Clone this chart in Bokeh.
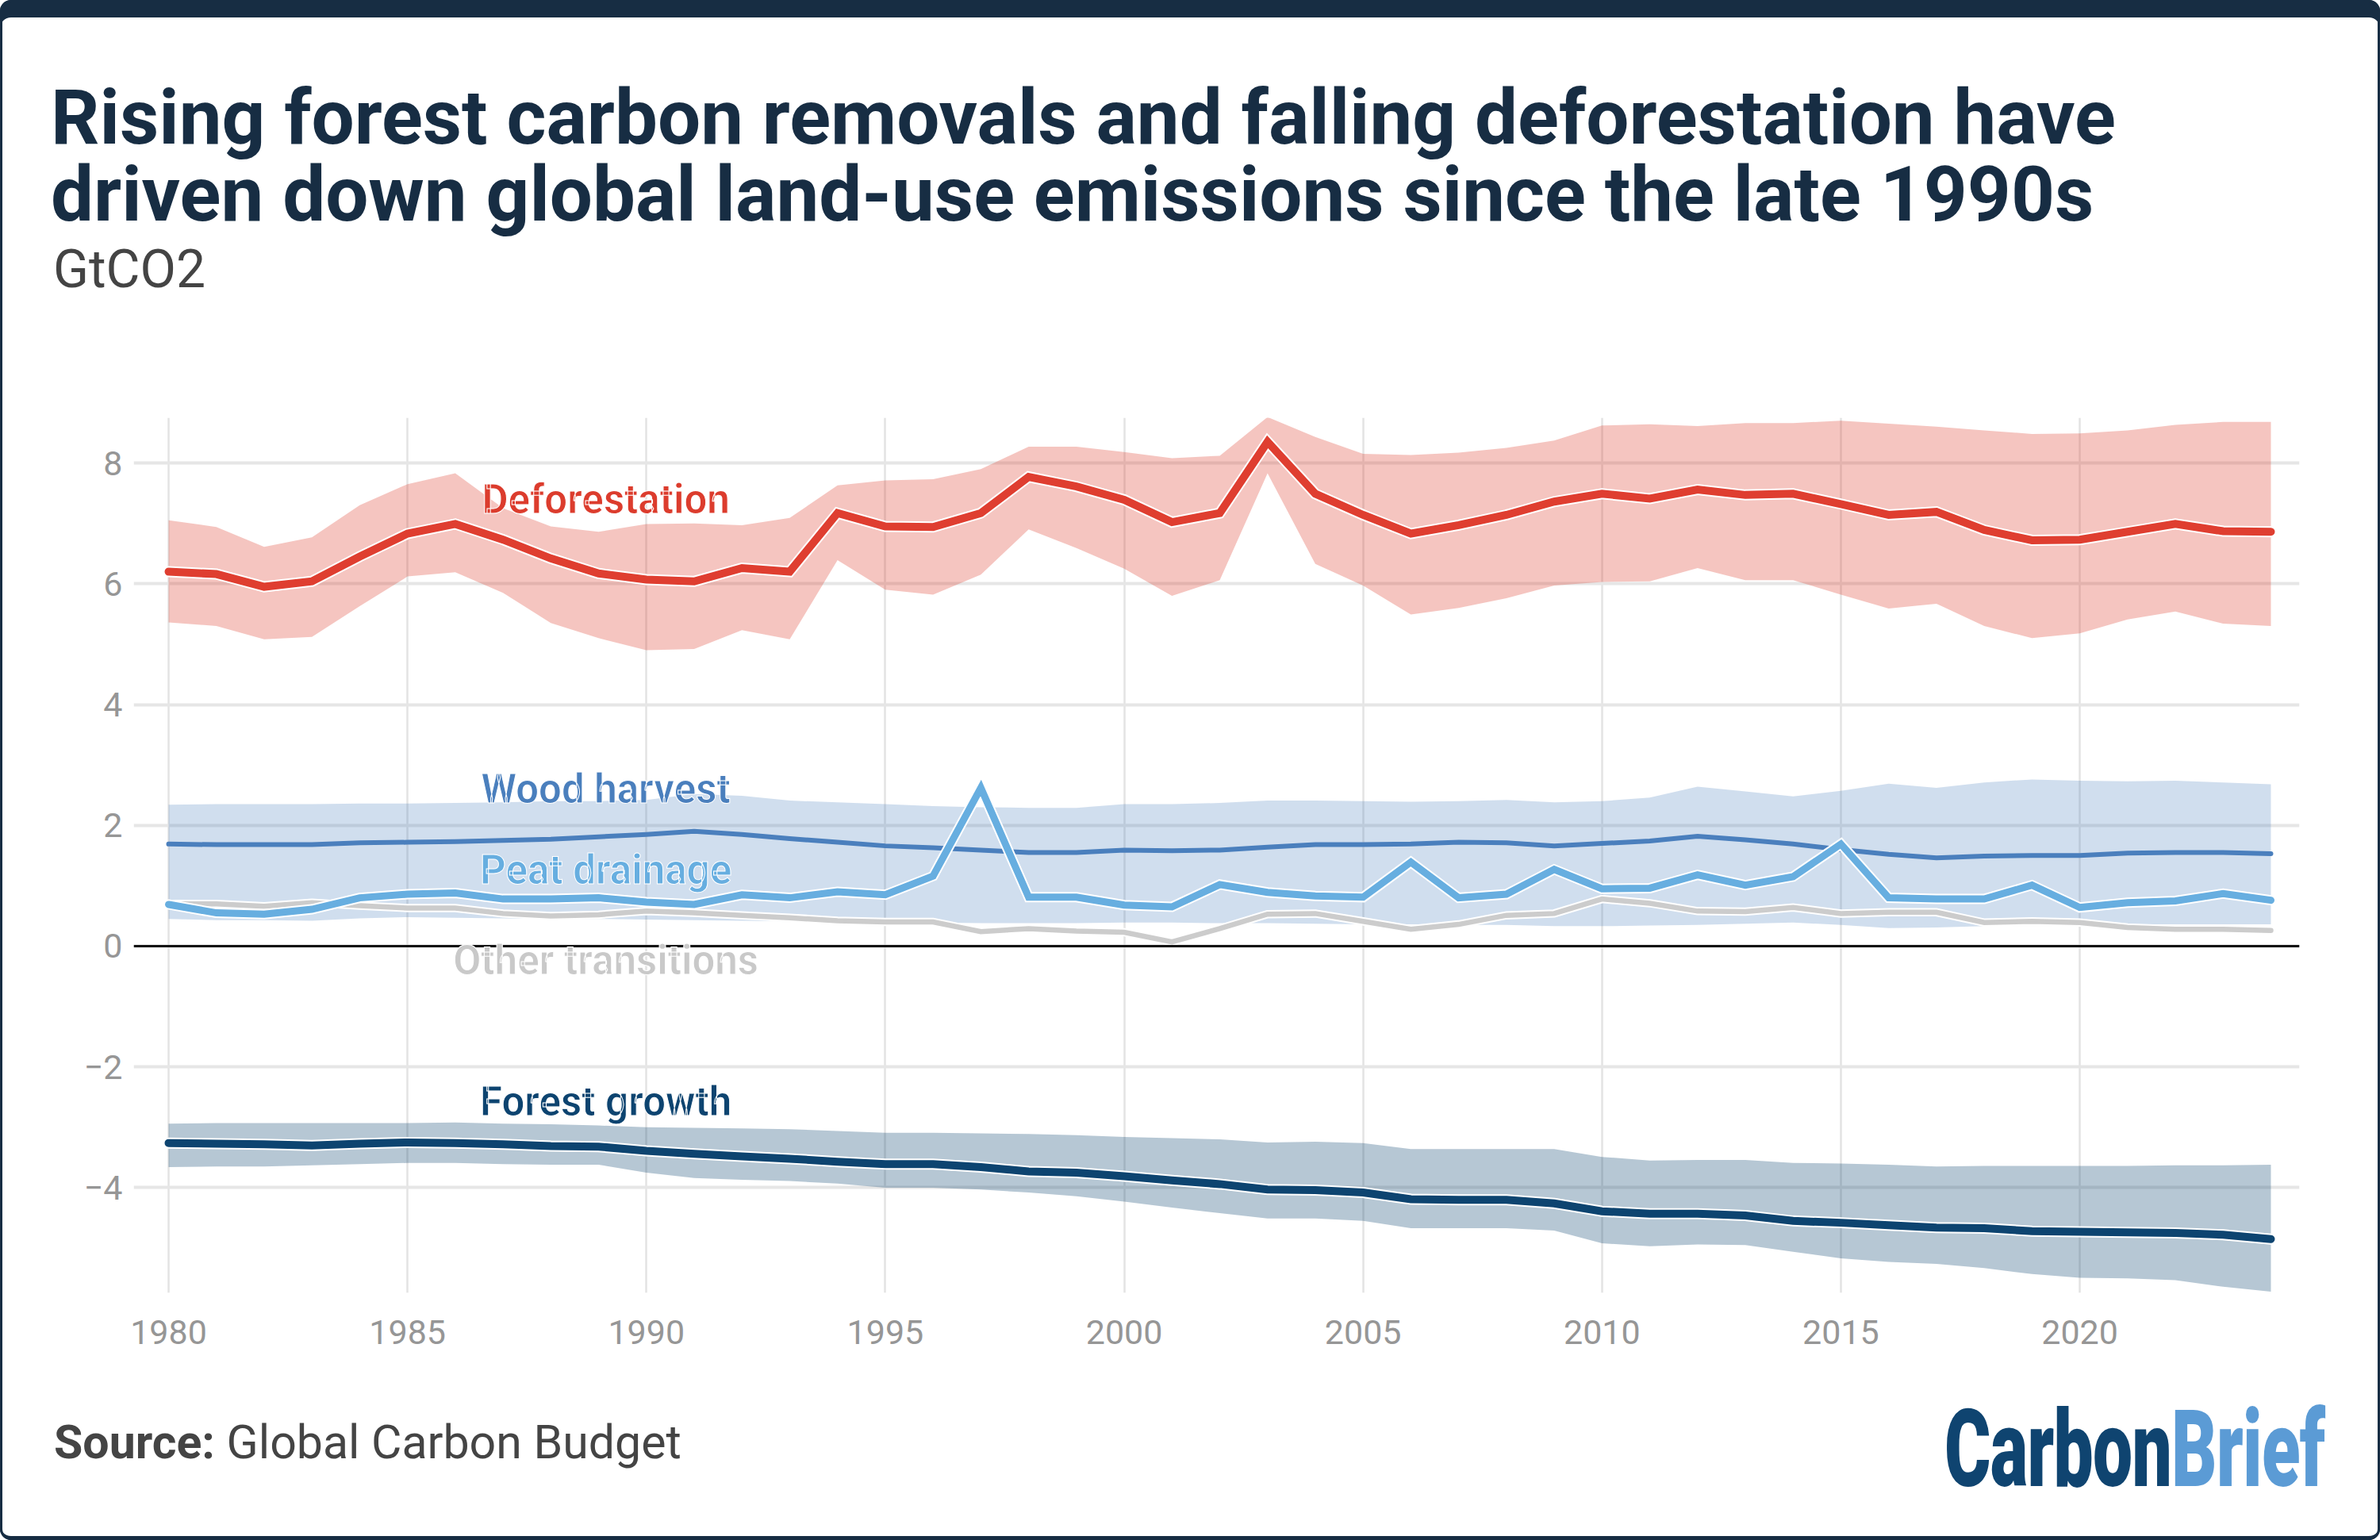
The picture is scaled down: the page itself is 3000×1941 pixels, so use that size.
from bokeh.plotting import figure
from bokeh.models import Range1d, FixedTicker, Label, Span, Div
from bokeh.layouts import column
from bokeh.embed import file_html
from bokeh.resources import INLINE

# ---------------- data (GtCO2) ----------------
years = list(range(1980, 2025))

deforestation = [6.20, 6.16, 5.95, 6.04, 6.45, 6.83, 6.99, 6.73, 6.42, 6.17,
                 6.07, 6.04, 6.26, 6.20, 7.17, 6.95, 6.94, 7.17, 7.77, 7.61,
                 7.39, 7.02, 7.17, 8.35, 7.49, 7.14, 6.83, 6.97, 7.14, 7.36,
                 7.49, 7.41, 7.56, 7.47, 7.49, 7.32, 7.14, 7.19, 6.89, 6.72,
                 6.73, 6.86, 6.99, 6.87, 6.86]
deforestation_hi = [7.05, 6.94, 6.61, 6.77, 7.30, 7.65, 7.83, 7.25, 6.95, 6.86,
                    6.99, 7.00, 6.97, 7.09, 7.63, 7.71, 7.73, 7.90, 8.27, 8.27,
                    8.18, 8.08, 8.12, 8.76, 8.43, 8.15, 8.13, 8.17, 8.25, 8.37,
                    8.62, 8.64, 8.61, 8.66, 8.66, 8.70, 8.65, 8.60, 8.54, 8.48,
                    8.49, 8.54, 8.63, 8.68, 8.68]
deforestation_lo = [5.36, 5.30, 5.08, 5.12, 5.63, 6.12, 6.19, 5.85, 5.35, 5.10,
                    4.90, 4.92, 5.23, 5.08, 6.39, 5.90, 5.82, 6.15, 6.90, 6.59,
                    6.25, 5.80, 6.06, 7.83, 6.33, 5.97, 5.49, 5.60, 5.76, 5.97,
                    6.03, 6.04, 6.26, 6.06, 6.06, 5.82, 5.59, 5.67, 5.30, 5.10,
                    5.18, 5.41, 5.54, 5.34, 5.30]

wood_harvest = [1.69, 1.68, 1.68, 1.68, 1.71, 1.72, 1.73, 1.75, 1.77, 1.81,
                1.85, 1.90, 1.85, 1.78, 1.72, 1.66, 1.63, 1.59, 1.55, 1.55,
                1.59, 1.58, 1.59, 1.64, 1.68, 1.68, 1.69, 1.72, 1.71, 1.66,
                1.70, 1.74, 1.82, 1.76, 1.69, 1.60, 1.52, 1.46, 1.49, 1.50,
                1.50, 1.54, 1.55, 1.55, 1.53]
wood_harvest_hi = [2.34, 2.35, 2.35, 2.35, 2.36, 2.36, 2.37, 2.38, 2.40, 2.40,
                   2.42, 2.52, 2.49, 2.41, 2.38, 2.35, 2.32, 2.30, 2.29, 2.29,
                   2.35, 2.35, 2.37, 2.41, 2.41, 2.40, 2.39, 2.40, 2.42, 2.38,
                   2.40, 2.46, 2.64, 2.56, 2.48, 2.57, 2.69, 2.62, 2.71, 2.76,
                   2.74, 2.73, 2.74, 2.71, 2.68]
wood_harvest_lo = [0.45, 0.43, 0.43, 0.42, 0.46, 0.48, 0.47, 0.46, 0.45, 0.45,
                   0.44, 0.43, 0.42, 0.41, 0.40, 0.39, 0.39, 0.38, 0.38, 0.38,
                   0.39, 0.39, 0.38, 0.38, 0.37, 0.36, 0.36, 0.35, 0.35, 0.33,
                   0.33, 0.34, 0.35, 0.37, 0.39, 0.35, 0.30, 0.31, 0.33, 0.35,
                   0.36, 0.36, 0.36, 0.36, 0.36]

peat_drainage = [0.69, 0.55, 0.53, 0.61, 0.80, 0.86, 0.88, 0.78, 0.78, 0.80,
                 0.73, 0.69, 0.85, 0.80, 0.90, 0.85, 1.16, 2.62, 0.81, 0.81,
                 0.68, 0.65, 1.02, 0.89, 0.83, 0.81, 1.39, 0.80, 0.86, 1.27,
                 0.95, 0.96, 1.18, 1.01, 1.15, 1.69, 0.80, 0.78, 0.78, 1.01,
                 0.64, 0.72, 0.75, 0.87, 0.76]

other_transitions = [0.70, 0.70, 0.66, 0.72, 0.67, 0.63, 0.63, 0.54, 0.50, 0.52,
                     0.58, 0.55, 0.51, 0.47, 0.42, 0.40, 0.40, 0.24, 0.29, 0.25,
                     0.23, 0.07, 0.29, 0.53, 0.54, 0.41, 0.28, 0.36, 0.51, 0.54,
                     0.78, 0.71, 0.58, 0.57, 0.64, 0.54, 0.56, 0.56, 0.39, 0.41,
                     0.39, 0.31, 0.28, 0.28, 0.26]

forest_growth = [-3.26, -3.27, -3.28, -3.30, -3.27, -3.25, -3.26, -3.28, -3.31, -3.32,
                 -3.39, -3.44, -3.48, -3.52, -3.57, -3.61, -3.61, -3.66, -3.73, -3.75,
                 -3.81, -3.88, -3.94, -4.03, -4.04, -4.08, -4.19, -4.20, -4.20, -4.26,
                 -4.39, -4.43, -4.43, -4.46, -4.55, -4.58, -4.62, -4.66, -4.67, -4.72,
                 -4.73, -4.74, -4.75, -4.78, -4.85]
forest_growth_hi = [-2.94, -2.93, -2.93, -2.93, -2.93, -2.93, -2.92, -2.94, -2.95, -2.97,
                    -3.00, -3.01, -3.02, -3.03, -3.06, -3.09, -3.09, -3.10, -3.11, -3.13,
                    -3.16, -3.18, -3.20, -3.25, -3.24, -3.26, -3.36, -3.36, -3.36, -3.36,
                    -3.49, -3.55, -3.54, -3.54, -3.59, -3.60, -3.62, -3.65, -3.64, -3.64,
                    -3.64, -3.64, -3.63, -3.63, -3.62]
forest_growth_lo = [-3.66, -3.65, -3.65, -3.63, -3.61, -3.59, -3.59, -3.61, -3.62, -3.62,
                    -3.75, -3.84, -3.87, -3.89, -3.93, -4.00, -4.00, -4.03, -4.08, -4.14,
                    -4.23, -4.33, -4.42, -4.51, -4.51, -4.55, -4.67, -4.67, -4.67, -4.71,
                    -4.92, -4.97, -4.94, -4.95, -5.06, -5.17, -5.23, -5.26, -5.33, -5.43,
                    -5.49, -5.50, -5.53, -5.64, -5.72]

x_ticks = [1980, 1985, 1990, 1995, 2000, 2005, 2010, 2015, 2020]
y_ticks = [-4, -2, 0, 2, 4, 6, 8]
y_tick_labels = {-4: "\u22124", -2: "\u22122"}

title_lines = ["Rising forest carbon removals and falling deforestation have",
               "driven down global land-use emissions since the late 1990s"]
unit_text = "GtCO2"
source_bold = "Source:"
source_text = "Global Carbon Budget"

# ---------------- layout (pixels) ----------------
W, H = 3000, 1941
TOP_H = 420          # header block
BOT_Y = 1730         # footer block starts here
FL, FR, FT, FB = 168, 2898, 526, 1629   # plot frame in page pixels
X0, X1 = 1979.269, 2024.598
Y0, Y1 = -5.741, 8.749
ASC, DESC = 0.9277, 0.2441   # Roboto vertical metrics (em)

NAVY = "#172d43"
RED = "#df3e30"
WOOD = "#4a7fbd"
PEAT = "#67aee0"
GREY = "#cccccc"
FOREST = "#0d4470"

fig = figure(width=W, height=BOT_Y - TOP_H, x_range=Range1d(X0, X1), y_range=Range1d(Y0, Y1),
             output_backend="svg", toolbar_location=None,
             min_border_left=FL, min_border_right=W - FR,
             min_border_top=FT - TOP_H, min_border_bottom=BOT_Y - FB)
fig.outline_line_color = None
fig.background_fill_color = "white"
fig.border_fill_alpha = 0

fig.xaxis.ticker = FixedTicker(ticks=x_ticks)
fig.yaxis.ticker = FixedTicker(ticks=y_ticks)
fig.yaxis.major_label_overrides = y_tick_labels
for ax in (fig.xaxis, fig.yaxis):
    ax.axis_line_color = None
    ax.major_tick_line_color = None
    ax.minor_tick_line_color = None
    ax.major_tick_out = 0
    ax.major_tick_in = 0
    ax.major_label_text_font = "Roboto"
    ax.major_label_text_font_size = "43px"
    ax.major_label_text_color = "#969696"
fig.yaxis.major_label_standoff = 14
fig.xaxis.major_label_standoff = 34

fig.xgrid.grid_line_color = "#e3e3e3"
fig.xgrid.grid_line_width = 2.5
fig.ygrid.grid_line_color = "#e6e6e6"
fig.ygrid.grid_line_width = 4

# uncertainty bands
fig.varea(x=years, y1=deforestation_lo, y2=deforestation_hi, fill_color=RED, fill_alpha=0.3)
fig.varea(x=years, y1=wood_harvest_lo, y2=wood_harvest_hi, fill_color=WOOD, fill_alpha=0.26)
fig.varea(x=years, y1=forest_growth_lo, y2=forest_growth_hi, fill_color=FOREST, fill_alpha=0.3)

fig.add_layout(Span(location=0, dimension="width", line_color="#111111", line_width=3))


def series(y, color, w, halo):
    if halo:
        fig.line(years, y, line_color="white", line_width=w + halo,
                 line_cap="round", line_join="miter")
    fig.line(years, y, line_color=color, line_width=w,
             line_cap="round", line_join="miter")


series(other_transitions, GREY, 6.5, 4)
series(wood_harvest, WOOD, 6, 0)
series(peat_drainage, PEAT, 9, 4)
series(deforestation, RED, 10, 4)
series(forest_growth, FOREST, 10, 4)

# series labels (inside the frame)
LX = 1989.15
for txt, yy, col in [("Deforestation", 7.39, "#dc3c2d"),
                     ("Wood harvest", 2.60, WOOD),
                     ("Peat drainage", 1.26, PEAT),
                     ("Other transitions", -0.24, "#c9c9c9"),
                     ("Forest growth", -2.57, FOREST)]:
    fig.add_layout(Label(x=LX, y=yy, text=txt, text_align="center", text_baseline="alphabetic",
                         text_font="Roboto", text_font_style="bold", text_font_size="51px",
                         text_color=col, text_outline_color="white"))


def block(left, baseline, size, lh, inner, color, weight="normal", extra="", ws="nowrap"):
    # top of a line box whose first baseline falls at `baseline`
    top = baseline - ((lh - (ASC + DESC) * size) / 2 + ASC * size)
    return (f'<div style="position:absolute;left:{left}px;top:{top:.1f}px;'
            f'font-family:Roboto;font-size:{size}px;line-height:{lh}px;'
            f'font-weight:{weight};color:{color};white-space:{ws};margin:0;padding:0;{extra}">'
            f'{inner}</div>')


header_html = (
    f'<div style="position:relative;width:{W}px;height:{TOP_H}px;margin:0;padding:0">'
    + block(64, 181, 96, 97, title_lines[0] + "\n" + title_lines[1], NAVY, "bold", ws="pre")
    + block(67, 363, 66, 66, unit_text, "#444444")
    + '</div>')

footer_html = (
    f'<div style="position:relative;width:{W}px;height:{H - BOT_Y}px;margin:0;padding:0">'
    + block(68, 1838 - BOT_Y, 59, 59, f'<b>{source_bold}</b> {source_text}', "#444444")
    + block(2451, 1873 - BOT_Y, 136, 136,
            '<span style="color:#0f4470">Carbon</span>'
            '<span style="color:#5b9bd5">Brief</span>', "#0f4470", "900",
            "transform:scaleX(0.655);transform-origin:0 0;letter-spacing:-1px")
    + '</div>')

header = Div(text=header_html, width=W, height=TOP_H, margin=0)
footer = Div(text=footer_html, width=W, height=H - BOT_Y, margin=0)

p = column(header, fig, footer, spacing=0, width=W, height=H,
           styles={"background-color": "white",
                   "box-shadow": "inset 0 22px 0 0 #172d43, inset 0 -5px 0 0 #172d43",
                   "outline": "3px solid #172d43",
                   "outline-offset": "-3px",
                   "border-radius": "14px"})

open("out.html", "w").write(file_html(p, INLINE))
